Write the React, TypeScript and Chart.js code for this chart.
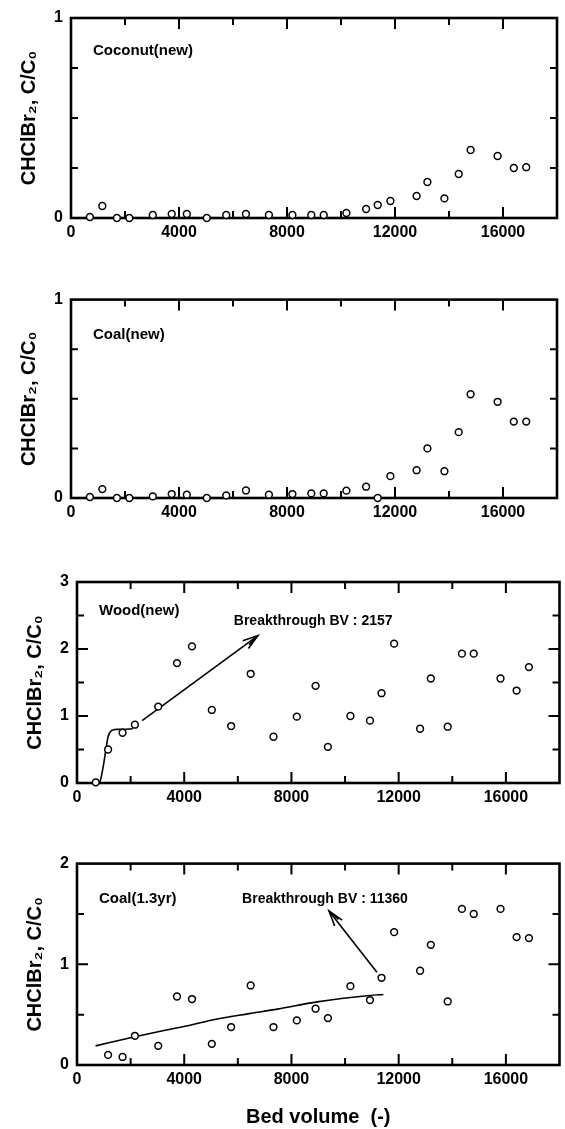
import React, { useEffect, useRef } from "react";
import { Chart, registerables } from "chart.js";

Chart.register(...registerables);

// ---------- data ----------
const bedVolume = [700, 1160, 1700, 2160, 3030, 3730, 4290, 5030, 5750, 6480, 7330, 8200, 8900, 9360, 10200, 10930, 11360, 11830, 12800, 13200, 13830, 14360, 14800, 15800, 16400, 16860];
const bedVolumeAged = [1160, 1700, 2160, 3030, 3730, 4290, 5030, 5750, 6480, 7330, 8200, 8900, 9360, 10200, 10930, 11360, 11830, 12800, 13200, 13830, 14360, 14800, 15800, 16400, 16860];

const coconutNew = [0.005, 0.06, 0, 0, 0.015, 0.02, 0.02, 0, 0.015, 0.02, 0.015, 0.015, 0.015, 0.015, 0.025, 0.045, 0.065, 0.085, 0.11, 0.18, 0.098, 0.22, 0.34, 0.31, 0.25, 0.254];
const coalNew = [0.005, 0.045, 0, 0, 0.008, 0.02, 0.017, 0, 0.013, 0.038, 0.017, 0.02, 0.023, 0.023, 0.037, 0.057, 0, 0.11, 0.14, 0.25, 0.135, 0.332, 0.523, 0.485, 0.385, 0.385];
const woodNew = [0.01, 0.5, 0.75, 0.87, 1.14, 1.79, 2.04, 1.09, 0.85, 1.63, 0.69, 0.99, 1.45, 0.54, 1.0, 0.93, 1.34, 2.08, 0.81, 1.56, 0.84, 1.93, 1.93, 1.56, 1.38, 1.73];
const coalAged = [0.1, 0.08, 0.29, 0.19, 0.68, 0.655, 0.21, 0.377, 0.79, 0.377, 0.443, 0.559, 0.466, 0.783, 0.645, 0.866, 1.319, 0.936, 1.193, 0.631, 1.55, 1.5, 1.55, 1.27, 1.26];

const woodFitX = [667, 850, 975, 1074, 1160, 1284, 1469, 1716, 2080];
const woodFitY = [0, 0.02, 0.24, 0.49, 0.69, 0.78, 0.8, 0.8, 0.81];
const woodArrowX = [2430, 6750];
const woodArrowY = [0.93, 2.2];

const coalAgedFitX = [693, 2160, 3200, 4293, 5093, 6427, 7480, 8960, 10930, 11430];
const coalAgedFitY = [0.19, 0.28, 0.34, 0.4, 0.45, 0.51, 0.555, 0.627, 0.69, 0.7];
const coalAgedArrowX = [11190, 9400];
const coalAgedArrowY = [0.92, 1.53];

const xTickValues = [0, 4000, 8000, 12000, 16000];
const xMajorMarks = [4000, 8000, 12000, 16000];
const xMinorMarks = [2000, 6000, 10000, 14000];

const panelLabels = ["Coconut(new)", "Coal(new)", "Wood(new)", "Coal(1.3yr)"];
const yTitle = "CHClBr\u2082, C/C\u2080";
const xTitle = "Bed volume  (-)";
const woodNote = "Breakthrough BV : 2157";
const coalAgedNote = "Breakthrough BV : 11360";
const woodNoteAt = { x: 5850, y: 2.42 };
const coalAgedNoteAt = { x: 6160, y: 1.65 };

const FONT = '"Liberation Sans", Arial, Helvetica, sans-serif';

type Panel = {
  label: string;
  xs: number[];
  ys: number[];
  yMax: number;
  yTicks: number[];
  yMajorMarks: number[];
  yMinorMarks: number[];
  fitX?: number[];
  fitY?: number[];
  arrowX?: number[];
  arrowY?: number[];
  note?: string;
  noteAt?: { x: number; y: number };
  showXTitle: boolean;
  top: number;
  h: number;
  T: number;
  B: number;
  L: number;
  R: number;
  labelDy: number;
};

const panels: Panel[] = [
  { label: panelLabels[0], xs: bedVolume, ys: coconutNew, yMax: 1, yTicks: [0, 1], yMajorMarks: [], yMinorMarks: [0.25, 0.5, 0.75], showXTitle: false, top: 0, h: 282, T: 18, B: 218, L: 71, R: 557, labelDy: 33 },
  { label: panelLabels[1], xs: bedVolume, ys: coalNew, yMax: 1, yTicks: [0, 1], yMajorMarks: [], yMinorMarks: [0.25, 0.5, 0.75], showXTitle: false, top: 282, h: 282, T: 16, B: 216, L: 71, R: 557, labelDy: 35 },
  { label: panelLabels[2], xs: bedVolume, ys: woodNew, yMax: 3, yTicks: [0, 1, 2, 3], yMajorMarks: [1, 2], yMinorMarks: [0.5, 1.5, 2.5], fitX: woodFitX, fitY: woodFitY, arrowX: woodArrowX, arrowY: woodArrowY, note: woodNote, noteAt: woodNoteAt, showXTitle: false, top: 564, h: 282, T: 18, B: 219, L: 77, R: 562, labelDy: 29 },
  { label: panelLabels[3], xs: bedVolumeAged, ys: coalAged, yMax: 2, yTicks: [0, 1, 2], yMajorMarks: [1], yMinorMarks: [0.5, 1.5], fitX: coalAgedFitX, fitY: coalAgedFitY, arrowX: coalAgedArrowX, arrowY: coalAgedArrowY, note: coalAgedNote, noteAt: coalAgedNoteAt, showXTitle: true, top: 846, h: 283, T: 17, B: 219, L: 77, R: 562, labelDy: 35 },
];

const toPts = (xs: number[], ys: number[]) => xs.map((x, i) => ({ x, y: ys[i] }));

const framePlugin = {
  id: "frame",
  beforeDatasetsDraw(chart: any, _args: any, opts: any) {
    const { ctx, chartArea, scales } = chart;
    const { left, right, top, bottom } = chartArea;
    const x = scales.x;
    const y = scales.y;
    const p: Panel = opts.panel;
    ctx.save();
    ctx.strokeStyle = "#000";
    ctx.lineWidth = 2;
    ctx.lineCap = "butt";
    const major = 11;
    const minor = 7;
    const vtick = (v: number, len: number) => {
      const px = x.getPixelForValue(v);
      ctx.beginPath();
      ctx.moveTo(px, bottom);
      ctx.lineTo(px, bottom - len);
      ctx.moveTo(px, top);
      ctx.lineTo(px, top + len);
      ctx.stroke();
    };
    const htick = (v: number, len: number) => {
      const py = y.getPixelForValue(v);
      ctx.beginPath();
      ctx.moveTo(left, py);
      ctx.lineTo(left + len, py);
      ctx.moveTo(right, py);
      ctx.lineTo(right - len, py);
      ctx.stroke();
    };
    xMajorMarks.forEach((v) => vtick(v, major));
    xMinorMarks.forEach((v) => vtick(v, minor));
    p.yMajorMarks.forEach((v) => htick(v, major));
    p.yMinorMarks.forEach((v) => htick(v, minor));
    ctx.lineWidth = 2.6;
    ctx.strokeRect(left, top, right - left, bottom - top);
    ctx.restore();
  },
  afterDatasetsDraw(chart: any, _args: any, opts: any) {
    const { ctx, chartArea, scales } = chart;
    const x = scales.x;
    const y = scales.y;
    const p: Panel = opts.panel;
    ctx.save();
    ctx.fillStyle = "#000";
    ctx.font = `bold 15px ${FONT}`;
    ctx.textBaseline = "middle";
    ctx.textAlign = "left";
    ctx.fillText(p.label, chartArea.left + 22, chartArea.top + p.labelDy);
    if (p.note && p.noteAt) {
      ctx.font = `bold 14px ${FONT}`;
      ctx.fillText(p.note, x.getPixelForValue(p.noteAt.x), y.getPixelForValue(p.noteAt.y));
    }
    if (p.arrowX && p.arrowY) {
      const n = p.arrowX.length;
      const x1 = x.getPixelForValue(p.arrowX[n - 2]);
      const y1 = y.getPixelForValue(p.arrowY[n - 2]);
      const x2 = x.getPixelForValue(p.arrowX[n - 1]);
      const y2 = y.getPixelForValue(p.arrowY[n - 1]);
      const ang = Math.atan2(y2 - y1, x2 - x1);
      ctx.strokeStyle = "#000";
      ctx.lineWidth = 1.6;
      const len = 16;
      const spread = 0.3;
      ctx.beginPath();
      ctx.moveTo(x2 - len * Math.cos(ang - spread), y2 - len * Math.sin(ang - spread));
      ctx.lineTo(x2, y2);
      ctx.lineTo(x2 - len * Math.cos(ang + spread), y2 - len * Math.sin(ang + spread));
      ctx.stroke();
      ctx.beginPath();
      ctx.moveTo(x2 - len * 0.8 * Math.cos(ang - spread * 0.6), y2 - len * 0.8 * Math.sin(ang - spread * 0.6));
      ctx.lineTo(x2 - 2 * Math.cos(ang), y2 - 2 * Math.sin(ang));
      ctx.stroke();
    }
    ctx.restore();
  },
};

function ChartPanel({ p }: { p: Panel }) {
  const ref = useRef<HTMLCanvasElement>(null);
  useEffect(() => {
    if (!ref.current) return;
    const datasets: any[] = [
      {
        data: toPts(p.xs, p.ys),
        showLine: false,
        pointRadius: 3.4,
        pointBorderWidth: 1.5,
        pointBorderColor: "#000",
        pointBackgroundColor: "#fff",
        clip: false,
      },
    ];
    if (p.fitX && p.fitY) {
      datasets.push({
        data: toPts(p.fitX, p.fitY),
        showLine: true,
        pointRadius: 0,
        borderColor: "#000",
        borderWidth: 1.6,
        cubicInterpolationMode: "monotone",
        fill: false,
        clip: false,
      });
    }
    if (p.arrowX && p.arrowY) {
      datasets.push({
        data: toPts(p.arrowX, p.arrowY),
        showLine: true,
        pointRadius: 0,
        borderColor: "#000",
        borderWidth: 1.6,
        fill: false,
        clip: false,
      });
    }
    const tickFont = { family: FONT, size: 16, weight: "bold" as const };
    const chart = new Chart(ref.current, {
      type: "scatter",
      data: { datasets },
      options: {
        animation: false,
        responsive: false,
        devicePixelRatio: 1,
        events: [],
        layout: { padding: { top: p.T, right: 565 - p.R, left: 0, bottom: 0 } },
        plugins: {
          legend: { display: false },
          tooltip: { enabled: false },
          frame: { panel: p },
        } as any,
        scales: {
          x: {
            type: "linear",
            min: 0,
            max: 18000,
            afterBuildTicks: (s: any) => {
              s.ticks = xTickValues.map((v) => ({ value: v }));
            },
            afterFit: (s: any) => {
              s.height = p.h - p.B;
            },
            ticks: {
              callback: (v: any) => String(v),
              font: tickFont,
              color: "#000",
              padding: 5,
              maxRotation: 0,
              autoSkip: false,
            },
            grid: { display: false, drawTicks: false },
            border: { display: false },
            title: p.showXTitle
              ? {
                  display: true,
                  text: xTitle,
                  color: "#000",
                  font: { family: FONT, size: 20, weight: "bold", lineHeight: 1.2 },
                  padding: { top: 0, bottom: 0 },
                }
              : { display: false },
          },
          y: {
            type: "linear",
            min: 0,
            max: p.yMax,
            afterBuildTicks: (s: any) => {
              s.ticks = p.yTicks.map((v) => ({ value: v }));
            },
            afterFit: (s: any) => {
              s.width = p.L;
            },
            ticks: {
              callback: (v: any) => String(v),
              font: tickFont,
              color: "#000",
              padding: 8,
              autoSkip: false,
            },
            grid: { display: false, drawTicks: false },
            border: { display: false },
            title: {
              display: true,
              text: yTitle,
              color: "#000",
              font: { family: FONT, size: 20, weight: "bold", lineHeight: 1.2 },
              padding: { top: 17 + (p.L - 71), bottom: 0 },
            },
          },
        },
      },
      plugins: [framePlugin],
    } as any);
    return () => chart.destroy();
  }, [p]);
  return (
    <canvas
      ref={ref}
      width={565}
      height={p.h}
      style={{ position: "absolute", left: 0, top: p.top, width: 565, height: p.h, display: "block" }}
    />
  );
}

export default function App() {
  return (
    <div style={{ position: "absolute", left: 0, top: 0, width: 565, height: 1129, background: "#fff", overflow: "hidden" }}>
      {panels.map((p, i) => (
        <ChartPanel key={i} p={p} />
      ))}
    </div>
  );
}
